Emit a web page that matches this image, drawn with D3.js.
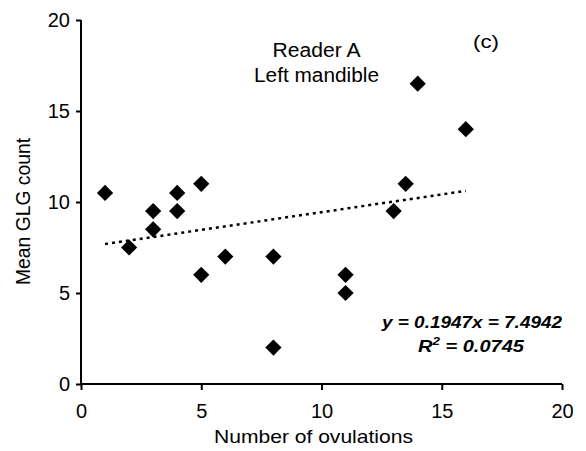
<!DOCTYPE html>
<html><head><meta charset="utf-8">
<script src="https://cdn.jsdelivr.net/npm/d3@7"></script>
<style>body{margin:0;background:#fff}svg{display:block}text{font-family:"Liberation Sans",Arial,sans-serif;fill:#000}</style>
</head><body><svg id="c" width="586" height="451"></svg>
<script>
const ovulations = [1, 2, 3, 3, 4, 4, 5, 5, 6, 8, 8, 11, 11, 13, 13.5, 14, 16];
const glgCount   = [10.5, 7.5, 9.5, 8.5, 10.5, 9.5, 11, 6, 7, 7, 2, 6, 5, 9.5, 11, 16.5, 14];
const xTicks = [0, 5, 10, 15, 20];
const yTicks = [0, 5, 10, 15, 20];
const slope = 0.1947, intercept = 7.4942;
const trendX = [1, 16];
const titleLines = ["Reader A", "Left mandible"];
const panelLabel = "(c)";

const svg = d3.select("#c");
const x = d3.scaleLinear().domain([0, 20]).range([81, 562]);
const y = d3.scaleLinear().domain([0, 20]).range([384, 20]);

const xa = svg.append("g").attr("transform", "translate(0,384)")
  .call(d3.axisBottom(x).tickValues(xTicks).tickSize(6).tickPadding(14));
const ya = svg.append("g").attr("transform", "translate(81,0)")
  .call(d3.axisLeft(y).tickValues(yTicks).tickSize(5).tickPadding(6));
[xa, ya].forEach(a => {
  a.select(".domain").attr("stroke", "#000").attr("stroke-width", 2);
  a.selectAll(".tick line").attr("stroke", "#000").attr("stroke-width", 2);
  a.selectAll(".tick text").attr("font-size", 20).attr("font-family", "Liberation Sans, Arial, sans-serif").attr("fill", "#000");
});
ya.select(".domain").attr("d", "M0,385V20");
xa.select(".domain").attr("d", "M0,0H481").attr("transform", "translate(81,0)");

// trend line
svg.append("line")
  .attr("x1", x(trendX[0])).attr("y1", y(slope * trendX[0] + intercept))
  .attr("x2", x(trendX[1])).attr("y2", y(slope * trendX[1] + intercept))
  .attr("stroke", "#000").attr("stroke-width", 2.5).attr("stroke-dasharray", "3,4");

// points
const sym = d3.symbol().type(d3.symbolSquare).size(132);
svg.append("g").selectAll("path").data(ovulations.map((v, i) => [v, glgCount[i]]))
  .join("path").attr("d", sym)
  .attr("transform", d => `translate(${x(d[0])},${y(d[1])}) rotate(45)`)
  .attr("fill", "#000");

// labels
svg.append("text").attr("x", 313.5).attr("y", 443).attr("text-anchor", "middle").attr("font-size", 19)
  .attr("textLength", 199).attr("lengthAdjust", "spacingAndGlyphs").text("Number of ovulations");
svg.append("text").attr("transform", "translate(30,211.5) rotate(-90)").attr("text-anchor", "middle").attr("font-size", 19.5)
  .attr("textLength", 147).attr("lengthAdjust", "spacingAndGlyphs").text("Mean GLG count");
const titleW = [88, 125];
svg.selectAll("text.title").data(titleLines).join("text").attr("class", "title")
  .attr("x", 316.5).attr("y", (d, i) => 57 + i * 24.5).attr("text-anchor", "middle").attr("font-size", 19.5)
  .attr("textLength", (d, i) => titleW[i]).attr("lengthAdjust", "spacingAndGlyphs").text(d => d);
svg.append("text").attr("x", 473).attr("y", 48).attr("font-size", 19)
  .attr("textLength", 26).attr("lengthAdjust", "spacingAndGlyphs").text(panelLabel);

const eq = svg.append("g").attr("font-weight", "bold").attr("font-style", "italic");
eq.append("text").attr("x", 382).attr("y", 328).attr("font-size", 16.5)
  .attr("textLength", 180).attr("lengthAdjust", "spacingAndGlyphs")
  .text(`y = ${slope}x = ${intercept}`);
const r2 = eq.append("text").attr("x", 418).attr("y", 351.5).attr("font-size", 16.5)
  .attr("textLength", 106).attr("lengthAdjust", "spacingAndGlyphs");
r2.append("tspan").text("R");
r2.append("tspan").attr("dy", -7).attr("font-size", 11).text("2");
r2.append("tspan").attr("dy", 7).text(" = 0.0745");
</script></body></html>
